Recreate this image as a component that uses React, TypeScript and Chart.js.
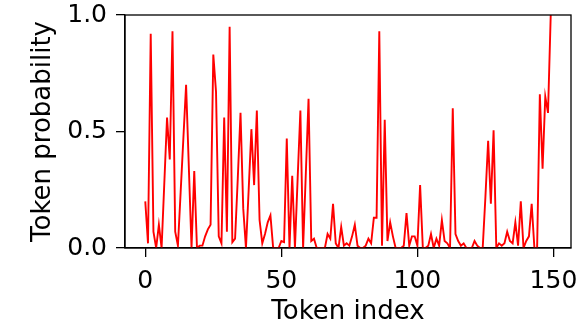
import React, { useEffect, useRef } from "react";
import { Chart, registerables } from "chart.js";

Chart.register(...registerables);

// Token probabilities for token index 0..149
const PROBS: number[] = [
  0.20, 0.02, 0.92, 0.07, 0.00, 0.10, 0.00, 0.28, 0.56, 0.38,
  0.93, 0.07, 0.01, 0.24, 0.47, 0.70, 0.35, 0.00, 0.33, 0.00,
  0.01, 0.01, 0.05, 0.08, 0.10, 0.83, 0.67, 0.05, 0.02, 0.56,
  0.07, 0.95, 0.025, 0.04, 0.30, 0.58, 0.17, 0.00, 0.25, 0.51,
  0.27, 0.59, 0.12, 0.02, 0.06, 0.11, 0.14, 0.00, 0.00, 0.00,
  0.03, 0.025, 0.47, 0.00, 0.31, 0.00, 0.30, 0.59, 0.00, 0.32,
  0.64, 0.03, 0.04, 0.00, 0.00, 0.00, 0.00, 0.06, 0.04, 0.19,
  0.02, 0.00, 0.09, 0.01, 0.02, 0.01, 0.05, 0.10, 0.01, 0.00,
  0.00, 0.01, 0.04, 0.02, 0.13, 0.13, 0.93, 0.01, 0.55, 0.03,
  0.11, 0.05, 0.00, 0.00, 0.00, 0.01, 0.15, 0.01, 0.05, 0.05,
  0.01, 0.27, 0.00, 0.00, 0.01, 0.06, 0.00, 0.04, 0.01, 0.12,
  0.03, 0.02, 0.00, 0.60, 0.06, 0.03, 0.01, 0.02, 0.00, 0.00,
  0.00, 0.03, 0.01, 0.00, 0.00, 0.22, 0.46, 0.19, 0.505, 0.00,
  0.02, 0.01, 0.02, 0.07, 0.03, 0.02, 0.11, 0.01, 0.20, 0.00,
  0.03, 0.05, 0.19, 0.00, 0.00, 0.66, 0.34, 0.65, 0.58, 1.00,
];

const X_TICKS: number[] = [0, 50, 100, 150];
const Y_TICKS: number[] = [0, 0.5, 1.0];
const X_MIN = -7.45;
const X_MAX = 156.45;
const Y_MIN = 0;
const Y_MAX = 1;

const X_TITLE = "Token index";
const Y_TITLE = "Token probability";

const FONT = "DejaVu Sans";

export default function App() {
  const ref = useRef<HTMLCanvasElement>(null);

  useEffect(() => {
    const frame = {
      id: "frame",
      afterDraw(chart: any) {
        const { ctx, chartArea } = chart;
        const { left, top, right, bottom } = chartArea;
        ctx.save();
        ctx.strokeStyle = "#000";
        ctx.lineWidth = 1.3;
        ctx.strokeRect(left, top, right - left, bottom - top);
        ctx.restore();
      },
    };

    const chart = new Chart(ref.current as HTMLCanvasElement, {
      type: "line",
      data: {
        datasets: [
          {
            data: PROBS.map((y, i) => ({ x: i, y })),
            borderColor: "#ff0000",
            borderWidth: 1.9,
            pointRadius: 0,
            tension: 0,
            fill: false,
          },
        ],
      },
      options: {
        animation: false,
        responsive: false,
        maintainAspectRatio: false,
        layout: { padding: { left: 0, top: 15, right: 12, bottom: 0 } },
        plugins: { legend: { display: false }, tooltip: { enabled: false } },
        scales: {
          x: {
            type: "linear",
            min: X_MIN,
            max: X_MAX,
            afterBuildTicks: (s: any) => {
              s.ticks = X_TICKS.map((v) => ({ value: v }));
            },
            afterFit: (s: any) => {
              s.height = 79;
              s.paddingLeft = 0;
              s.paddingRight = 0;
            },
            grid: {
              display: true,
              drawOnChartArea: false,
              drawTicks: true,
              tickLength: 9,
              color: "#000",
              lineWidth: 1.3,
            },
            border: { display: true, color: "#000", width: 1.3 },
            ticks: {
              color: "#000",
              font: { family: FONT, size: 25 },
              padding: 9,
              maxRotation: 0,
              callback: (v: any) => String(v),
            },
            title: {
              display: true,
              text: X_TITLE,
              color: "#000",
              font: { family: FONT, size: 26, lineHeight: 1.1 },
              padding: { top: 0, bottom: 0 },
            },
          },
          y: {
            type: "linear",
            min: Y_MIN,
            max: Y_MAX,
            afterBuildTicks: (s: any) => {
              s.ticks = Y_TICKS.map((v) => ({ value: v }));
            },
            afterFit: (s: any) => {
              s.width = 125;
              s.paddingTop = 0;
              s.paddingBottom = 0;
            },
            grid: {
              display: true,
              drawOnChartArea: false,
              drawTicks: true,
              tickLength: 9,
              color: "#000",
              lineWidth: 1.3,
            },
            border: { display: true, color: "#000", width: 1.3 },
            ticks: {
              color: "#000",
              font: { family: FONT, size: 25 },
              padding: 9,
              callback: (v: any) => Number(v).toFixed(1),
            },
            title: {
              display: true,
              text: Y_TITLE,
              color: "#000",
              font: { family: FONT, size: 26, lineHeight: 1.1 },
              padding: { top: 29, bottom: 0 },
            },
          },
        },
      },
      plugins: [frame],
    });

    return () => chart.destroy();
  }, []);

  return (
    <div style={{ position: "fixed", left: 0, top: 0, width: 583, height: 327 }}>
      <canvas
        ref={ref}
        width={583}
        height={327}
        style={{ display: "block", width: 583, height: 327 }}
      />
    </div>
  );
}
